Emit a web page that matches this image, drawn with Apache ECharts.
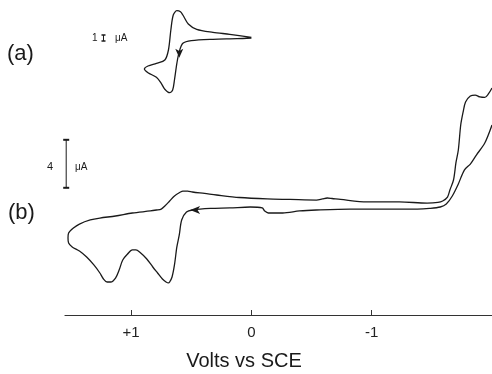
<!DOCTYPE html>
<html>
<head>
<meta charset="utf-8">
<script src="https://cdn.jsdelivr.net/npm/echarts@6/dist/echarts.min.js"></script>
<style>
  html, body { margin: 0; padding: 0; background: #fff; }
  #cv { width: 492px; height: 374px; }
</style>
</head>
<body>
<div id="cv"></div>
<script>
// (a) trace: potential (V vs SCE) and current (uA), scan order
var potA = [0.00, 0.12, 0.32, 0.50, 0.57, 0.60, 0.62, 0.64, 0.655, 0.68, 0.72, 0.75, 0.79, 0.86, 0.89,
            0.86, 0.79, 0.72, 0.69, 0.67, 0.65, 0.62, 0.59, 0.57, 0.525, 0.455, 0.32, 0.18, 0.00];
var curA = [0.00, -0.12, -0.22, -0.45, -0.88, -2.28, -4.22, -7.0, -8.67, -9.12, -8.55, -7.55, -6.55, -5.78, -5.17,
            -4.67, -4.22, -3.67, -2.0, 1.33, 3.83, 4.55, 4.38, 3.83, 2.33, 1.45, 0.95, 0.62, 0.12];

// (b) trace
var potB = [-2.0, -1.94, -1.87, -1.82, -1.77, -1.72, -1.67, -1.62, -1.57, -1.48, -1.38, -1.09, -0.82, -0.54, -0.40,
            -0.26, -0.14, -0.11, -0.09, 0.01, 0.18, 0.34, 0.49, 0.54, 0.58, 0.60, 0.62, 0.64, 0.66, 0.68,
            0.69, 0.71, 0.74, 0.78, 0.82, 0.87, 0.93, 0.96, 0.99, 1.03, 1.07, 1.10, 1.13, 1.17, 1.20,
            1.23, 1.26, 1.31, 1.37, 1.43, 1.49, 1.52, 1.525, 1.52, 1.48, 1.43, 1.34, 1.26, 1.13, 0.99,
            0.84, 0.79, 0.75, 0.72, 0.68, 0.64, 0.59, 0.57, 0.53, 0.49, 0.39, 0.29, 0.10, -0.13, -0.32,
            -0.54, -0.59, -0.63, -0.67, -0.74, -0.96, -1.23, -1.46, -1.55, -1.59, -1.63, -1.65, -1.68, -1.70, -1.72,
            -1.74, -1.76, -1.78, -1.82, -1.86, -1.90, -1.94, -1.97, -2.0];
var curB = [15.83, 14.33, 13.33, 12.58, 12.08, 10.92, 9.92, 9.25, 9.0, 8.88, 8.83, 8.83, 8.83, 8.75, 8.67,
            8.5, 8.5, 8.67, 8.92, 9.0, 8.92, 8.88, 8.75, 8.58, 7.92, 6.67, 5.67, 4.17, 3.17, 2.75,
            2.67, 2.75, 3.0, 3.5, 4.0, 4.67, 5.25, 5.42, 5.42, 5.08, 4.58, 3.75, 3.08, 2.75, 2.75,
            3.0, 3.5, 4.17, 4.83, 5.33, 5.67, 6.0, 6.42, 6.83, 7.25, 7.58, 7.92, 8.08, 8.25, 8.5,
            8.67, 8.75, 8.83, 9.08, 9.5, 9.92, 10.25, 10.33, 10.33, 10.25, 10.13, 10.0, 9.79, 9.67, 9.63,
            9.58, 9.67, 9.75, 9.71, 9.63, 9.42, 9.42, 9.33, 9.38, 9.5, 9.83, 10.42, 11.25, 12.67, 13.75,
            15.83, 16.92, 17.75, 18.25, 18.33, 18.17, 18.13, 18.42, 18.92];

// scale bars and scan-direction arrows
var scaleA = [-0.5, 0.5];   // 1 uA bar
var scaleB = [10.6, 14.6];  // 4 uA bar
var arrowA = [0.60, -3.3];
var arrowB = [0.51, 8.75];

var tickText = { '1': '+1', '0': '0', '-1': '-1' };

function zip(xs, ys) {
  var out = [];
  for (var i = 0; i < xs.length; i++) out.push([xs[i], ys[i]]);
  return out;
}

var ink = '#1a1a1a';
var font = 'Liberation Sans, Arial, Helvetica, sans-serif';
var chart = echarts.init(document.getElementById('cv'));

chart.setOption({
  animation: false,
  grid: [
    { left: 65, right: 0, top: 2, bottom: 276 },
    { left: 65, right: 0, top: 75, bottom: 59 }
  ],
  xAxis: [
    { gridIndex: 0, type: 'value', min: -2, max: 1.55, inverse: true, show: false },
    {
      gridIndex: 1, type: 'value', min: -2, max: 1.55, interval: 1, inverse: true,
      axisLine: { show: true, onZero: false, lineStyle: { color: '#333', width: 1.2 } },
      axisTick: { show: true, inside: true, length: 5, lineStyle: { color: '#333' } },
      splitLine: { show: false },
      axisLabel: {
        margin: 10, color: '#222', fontSize: 15, fontFamily: font,
        showMinLabel: false, showMaxLabel: false,
        formatter: function (v) { return tickText[String(v)] || ''; }
      }
    }
  ],
  yAxis: [
    { gridIndex: 0, type: 'value', min: -10, max: 6, show: false },
    { gridIndex: 1, type: 'value', min: 0, max: 20, show: false }
  ],
  series: [
    {
      type: 'line', xAxisIndex: 0, yAxisIndex: 0, data: zip(potA, curA),
      showSymbol: false, smooth: 0.3, lineStyle: { color: ink, width: 1.3 },
      markPoint: {
        symbol: 'arrow', symbolSize: [6, 9], symbolRotate: 180, label: { show: false },
        itemStyle: { color: ink }, data: [{ coord: arrowA }]
      }
    },
    {
      type: 'line', xAxisIndex: 0, yAxisIndex: 0, data: [[1.23, scaleA[0]], [1.23, scaleA[1]]],
      symbol: 'rect', symbolSize: [4, 1.5], lineStyle: { color: ink, width: 1 }, itemStyle: { color: ink }
    },
    {
      type: 'line', xAxisIndex: 1, yAxisIndex: 1, data: zip(potB, curB),
      showSymbol: false, smooth: 0.3, lineStyle: { color: ink, width: 1.3 },
      markPoint: {
        symbol: 'arrow', symbolSize: [6, 10], symbolRotate: 90, label: { show: false },
        itemStyle: { color: ink }, data: [{ coord: arrowB }]
      }
    },
    {
      type: 'line', xAxisIndex: 1, yAxisIndex: 1, data: [[1.54, scaleB[0]], [1.54, scaleB[1]]],
      symbol: 'rect', symbolSize: [6, 2], lineStyle: { color: ink, width: 1 }, itemStyle: { color: ink }
    }
  ],
  graphic: [
    { type: 'text', left: 7, top: 43, style: { text: '(a)', font: '22px ' + font, fill: ink } },
    { type: 'text', left: 8, top: 202, style: { text: '(b)', font: '22px ' + font, fill: ink } },
    { type: 'text', left: 92, top: 33, style: { text: '1', font: '10px ' + font, fill: ink } },
    { type: 'text', left: 115, top: 33, style: { text: 'μA', font: '10px ' + font, fill: ink } },
    { type: 'text', left: 47, top: 161, style: { text: '4', font: '11px ' + font, fill: ink } },
    { type: 'text', left: 75, top: 162, style: { text: 'μA', font: '10px ' + font, fill: ink } },
    { type: 'text', x: 244, y: 361, style: { text: 'Volts vs SCE', font: '20px ' + font, fill: ink, textAlign: 'center', textVerticalAlign: 'middle' } }
  ]
});
</script>
</body>
</html>
